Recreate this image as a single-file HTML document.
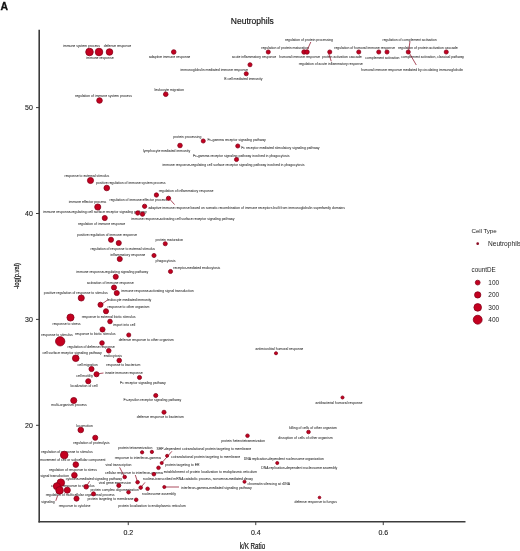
<!DOCTYPE html>
<html><head><meta charset="utf-8"><style>
html,body{margin:0;padding:0;background:#fff;}
body{width:520px;height:551px;overflow:hidden;position:relative;font-family:"Liberation Sans",sans-serif;}
svg{position:absolute;left:0;top:0;filter:blur(0.3px);}
</style></head><body>
<svg width="520" height="551" viewBox="0 0 520 551" font-family="Liberation Sans, sans-serif">
<text x="0.4" y="9.8" font-size="10.4" font-weight="bold" fill="#111" stroke="#111" stroke-width="0.3">A</text>
<text x="230.8" y="23.8" font-size="8.5" fill="#111" stroke="#111" stroke-width="0.15">Neutrophils</text>
<line x1="39.2" y1="29.8" x2="39.2" y2="522.5" stroke="#3c3c3c" stroke-width="1.6"/>
<line x1="38.5" y1="521.8" x2="465.5" y2="521.8" stroke="#3c3c3c" stroke-width="1.6"/>
<line x1="36" y1="107.60" x2="39" y2="107.60" stroke="#3c3c3c" stroke-width="1"/>
<text x="32.8" y="109.90" font-size="7" fill="#222" stroke="#222" stroke-width="0.12" text-anchor="end">50</text>
<line x1="36" y1="213.50" x2="39" y2="213.50" stroke="#3c3c3c" stroke-width="1"/>
<text x="32.8" y="215.80" font-size="7" fill="#222" stroke="#222" stroke-width="0.12" text-anchor="end">40</text>
<line x1="36" y1="319.40" x2="39" y2="319.40" stroke="#3c3c3c" stroke-width="1"/>
<text x="32.8" y="321.70" font-size="7" fill="#222" stroke="#222" stroke-width="0.12" text-anchor="end">30</text>
<line x1="36" y1="425.30" x2="39" y2="425.30" stroke="#3c3c3c" stroke-width="1"/>
<text x="32.8" y="427.60" font-size="7" fill="#222" stroke="#222" stroke-width="0.12" text-anchor="end">20</text>
<line x1="128.25" y1="522" x2="128.25" y2="525.1" stroke="#3c3c3c" stroke-width="1"/>
<text x="128.25" y="535.1" font-size="7" fill="#222" stroke="#222" stroke-width="0.12" text-anchor="middle">0.2</text>
<line x1="255.75" y1="522" x2="255.75" y2="525.1" stroke="#3c3c3c" stroke-width="1"/>
<text x="255.75" y="535.1" font-size="7" fill="#222" stroke="#222" stroke-width="0.12" text-anchor="middle">0.4</text>
<line x1="383.25" y1="522" x2="383.25" y2="525.1" stroke="#3c3c3c" stroke-width="1"/>
<text x="383.25" y="535.1" font-size="7" fill="#222" stroke="#222" stroke-width="0.12" text-anchor="middle">0.6</text>
<text transform="translate(252.5,548.6) scale(0.74,1)" font-size="8.5" fill="#222" stroke="#222" stroke-width="0.25" text-anchor="middle">k/K Ratio</text>
<text transform="translate(18.6,276) rotate(-90) scale(0.73,1)" font-size="8" fill="#222" stroke="#222" stroke-width="0.25" text-anchor="middle">-log(p.val)</text>
<g font-size="3.44" fill="#383838" stroke="#383838" stroke-width="0.06">
<text x="63" y="47.25">immune system process</text>
<text x="103.75" y="47.25">defense response</text>
<text x="86.25" y="59.00">immune response</text>
<text x="149" y="57.75">adaptive immune response</text>
<text x="154.5" y="91.25">leukocyte migration</text>
<text x="232" y="57.75">acute inflammatory response</text>
<text x="180.5" y="70.50">immunoglobulin mediated immune response</text>
<text x="224.25" y="79.75">B cell mediated immunity</text>
<text x="261.25" y="48.75">regulation of protein maturation</text>
<text x="285" y="41.25">regulation of protein processing</text>
<text x="279.25" y="57.50">humoral immune response</text>
<text x="322" y="57.50">protein activation cascade</text>
<text x="298.75" y="65.00">regulation of acute inflammatory response</text>
<text x="334.25" y="48.75">regulation of humoral immune response</text>
<text x="399.5" y="58.75" text-anchor="end">complement activation</text>
<text x="382.5" y="40.50">regulation of complement activation</text>
<text x="398" y="48.75">regulation of protein activation cascade</text>
<text x="401.2" y="57.75">complement activation, classical pathway</text>
<text x="361.25" y="71.00">humoral immune response mediated by circulating immunoglobulin</text>
<text x="75" y="97.00">regulation of immune system process</text>
<text x="143" y="151.50">lymphocyte mediated immunity</text>
<text x="173.25" y="138.00">protein processing</text>
<text x="207.5" y="140.75">Fc-gamma receptor signaling pathway</text>
<text x="241.25" y="148.50">Fc receptor mediated stimulatory signaling pathway</text>
<text x="289.5" y="156.50" text-anchor="end">Fc-gamma receptor signaling pathway involved in phagocytosis</text>
<text x="304.5" y="165.75" text-anchor="end">immune response-regulating cell surface receptor signaling pathway involved in phagocytosis</text>
<text x="64.5" y="176.75">response to external stimulus</text>
<text x="165.5" y="183.95" text-anchor="end">positive regulation of immune system process</text>
<text x="158.75" y="192.00">regulation of inflammatory response</text>
<text x="167" y="201.00" text-anchor="end">regulation of immune effector process</text>
<text x="68.75" y="203.25">immune effector process</text>
<text x="345" y="208.55" text-anchor="end">adaptive immune response based on somatic recombination of immune receptors built from immunoglobulin superfamily domains</text>
<text x="43" y="213.00">immune response-regulating cell surface receptor signaling pathway</text>
<text x="234.5" y="219.75" text-anchor="end">immune response-activating cell surface receptor signaling pathway</text>
<text x="78" y="225.00">regulation of immune response</text>
<text x="77" y="236.25">positive regulation of immune response</text>
<text x="90.5" y="249.50">regulation of response to external stimulus</text>
<text x="155.5" y="240.50">protein maturation</text>
<text x="110.5" y="255.75">inflammatory response</text>
<text x="155.5" y="261.75">phagocytosis</text>
<text x="76.25" y="272.50">immune response-regulating signaling pathway</text>
<text x="173.25" y="269.00">receptor-mediated endocytosis</text>
<text x="87" y="283.75">activation of immune response</text>
<text x="193.75" y="291.75" text-anchor="end">immune response-activating signal transduction</text>
<text x="43.75" y="293.75">positive regulation of response to stimulus</text>
<text x="107" y="300.50">leukocyte mediated immunity</text>
<text x="107.5" y="308.25">response to other organism</text>
<text x="81.75" y="318.00">response to external biotic stimulus</text>
<text x="52.5" y="325.00">response to stress</text>
<text x="113" y="326.25">import into cell</text>
<text x="75" y="335.00">response to biotic stimulus</text>
<text x="173.75" y="340.50" text-anchor="end">defense response to other organism</text>
<text x="41.25" y="336.25">response to stimulus</text>
<text x="67.5" y="348.00">regulation of defense response</text>
<text x="42.5" y="353.75">cell surface receptor signaling pathway</text>
<text x="103.75" y="356.75">endocytosis</text>
<text x="255.5" y="349.75">antimicrobial humoral response</text>
<text x="106.25" y="365.75">response to bacterium</text>
<text x="77.5" y="365.50">cell migration</text>
<text x="105" y="373.85">innate immune response</text>
<text x="76.25" y="377.25">cell motility</text>
<text x="70.5" y="387.00">localization of cell</text>
<text x="165.75" y="384.25" text-anchor="end">Fc receptor signaling pathway</text>
<text x="51.25" y="406.25">multi-organism process</text>
<text x="181.25" y="401.25" text-anchor="end">Fc-epsilon receptor signaling pathway</text>
<text x="315.5" y="404.00">antibacterial humoral response</text>
<text x="136.75" y="418.00">defense response to bacterium</text>
<text x="337" y="428.50" text-anchor="end">killing of cells of other organism</text>
<text x="332.5" y="438.75" text-anchor="end">disruption of cells of other organism</text>
<text x="76.25" y="426.75">locomotion</text>
<text x="73.25" y="443.75">regulation of proteolysis</text>
<text x="221.25" y="442.00">protein heterotetramerization</text>
<text x="41.25" y="452.50">regulation of response to stimulus</text>
<text x="118.1" y="449.15">protein tetramerization</text>
<text x="156.6" y="449.75">SRP-dependent cotranslational protein targeting to membrane</text>
<text x="114.8" y="458.75">response to interferon-gamma</text>
<text x="171" y="458.45">cotranslational protein targeting to membrane</text>
<text x="243.75" y="460.00">DNA replication-dependent nucleosome organization</text>
<text x="40.2" y="460.95">movement of cell or subcellular component</text>
<text x="165.1" y="466.25">protein targeting to ER</text>
<text x="105.5" y="466.25">viral transcription</text>
<text x="261.25" y="469.25">DNA replication-dependent nucleosome assembly</text>
<text x="49" y="471.25">regulation of response to stress</text>
<text x="105" y="473.65">cellular response to interferon-gamma</text>
<text x="163.7" y="473.35">establishment of protein localization to endoplasmic reticulum</text>
<text x="40.4" y="476.85">signal transduction</text>
<text x="121.9" y="479.75" text-anchor="end">cytokine-mediated signaling pathway</text>
<text x="253" y="479.85" text-anchor="end">nuclear-transcribed mRNA catabolic process, nonsense-mediated decay</text>
<text x="98.8" y="483.65">viral gene expression</text>
<text x="247.5" y="484.50">chromatin silencing at rDNA</text>
<text x="51" y="487.35">cellular response to stimulus</text>
<text x="181" y="488.55">interferon-gamma-mediated signaling pathway</text>
<text x="138.8" y="491.35" text-anchor="end">protein complex oligomerization</text>
<text x="142" y="495.05">nucleosome assembly</text>
<text x="45.8" y="495.75">regulation of multicellular organismal process</text>
<text x="133.5" y="500.45" text-anchor="end">protein targeting to membrane</text>
<text x="41.2" y="502.95">signaling</text>
<text x="294.5" y="503.25">defense response to fungus</text>
<text x="58.8" y="506.55">response to cytokine</text>
<text x="185.8" y="507.45" text-anchor="end">protein localization to endoplasmic reticulum</text>
</g>
<g stroke="#86001a" stroke-width="0.7">
<line x1="310.8" y1="42" x2="307.6" y2="49.2"/>
<line x1="328.75" y1="53.75" x2="331.25" y2="61.25"/>
<line x1="410" y1="41.25" x2="408.75" y2="50"/>
<line x1="408.75" y1="52" x2="416.25" y2="65"/>
<line x1="170.5" y1="200" x2="174.6" y2="204.6"/>
<line x1="100.5" y1="305" x2="107.5" y2="300"/>
<line x1="161.7" y1="463" x2="171.9" y2="451.3"/>
<line x1="124.7" y1="477" x2="119.6" y2="467.3"/>
<line x1="137.6" y1="482.2" x2="135.3" y2="475"/>
<line x1="140.7" y1="487.6" x2="145" y2="482.4"/>
<line x1="164.3" y1="487" x2="179" y2="487"/>
<line x1="86.2" y1="486.8" x2="89.6" y2="481.2"/>
<line x1="57.7" y1="495.4" x2="55.8" y2="500.8"/>
<line x1="99" y1="373.6" x2="103.5" y2="373"/>
</g>
<g fill="#c4001f" stroke="#86001a" stroke-width="0.8">
<circle cx="89.5" cy="52" r="3.80"/>
<circle cx="99" cy="52" r="3.80"/>
<circle cx="109.5" cy="52" r="3.30"/>
<circle cx="173.75" cy="52" r="2.30"/>
<circle cx="268.25" cy="52" r="2.05"/>
<circle cx="304" cy="52" r="2.25"/>
<circle cx="307" cy="52" r="2.25"/>
<circle cx="329.75" cy="52" r="2.05"/>
<circle cx="358.75" cy="52" r="2.05"/>
<circle cx="378.75" cy="52" r="2.05"/>
<circle cx="387" cy="52" r="2.05"/>
<circle cx="408.25" cy="52" r="2.05"/>
<circle cx="446.25" cy="52" r="2.05"/>
<circle cx="250" cy="64.75" r="2.05"/>
<circle cx="246.25" cy="73.75" r="2.05"/>
<circle cx="165.75" cy="94.25" r="2.30"/>
<circle cx="99.5" cy="100.5" r="2.80"/>
<circle cx="180" cy="145.5" r="2.30"/>
<circle cx="203.25" cy="141" r="2.05"/>
<circle cx="237.75" cy="146" r="2.05"/>
<circle cx="236.5" cy="159.5" r="2.05"/>
<circle cx="90.5" cy="180.5" r="3.05"/>
<circle cx="106.75" cy="188" r="2.80"/>
<circle cx="156.4" cy="195" r="2.15"/>
<circle cx="168.5" cy="198.3" r="2.15"/>
<circle cx="144.6" cy="206.3" r="2.15"/>
<circle cx="97.75" cy="207" r="3.05"/>
<circle cx="137.7" cy="213" r="2.15"/>
<circle cx="142.5" cy="214.2" r="2.15"/>
<circle cx="104.75" cy="218" r="2.55"/>
<circle cx="111" cy="239.75" r="2.55"/>
<circle cx="118.75" cy="243" r="2.55"/>
<circle cx="165.25" cy="243.75" r="2.05"/>
<circle cx="119.75" cy="259" r="2.55"/>
<circle cx="154" cy="255.5" r="2.05"/>
<circle cx="115.75" cy="276.75" r="2.55"/>
<circle cx="170.5" cy="271.5" r="2.05"/>
<circle cx="114" cy="287.5" r="2.55"/>
<circle cx="116.75" cy="293" r="2.55"/>
<circle cx="81.25" cy="298" r="3.05"/>
<circle cx="100.5" cy="304.75" r="2.55"/>
<circle cx="106" cy="311.25" r="2.55"/>
<circle cx="70.5" cy="317.5" r="3.55"/>
<circle cx="110" cy="321.5" r="2.30"/>
<circle cx="102.5" cy="329.5" r="2.55"/>
<circle cx="128.75" cy="335" r="2.05"/>
<circle cx="60.2" cy="341.3" r="4.65"/>
<circle cx="102" cy="343" r="2.30"/>
<circle cx="108.75" cy="350.75" r="2.30"/>
<circle cx="75.75" cy="358.25" r="3.30"/>
<circle cx="119.25" cy="360.5" r="2.30"/>
<circle cx="91.5" cy="369" r="2.55"/>
<circle cx="96.5" cy="374.25" r="2.55"/>
<circle cx="88.25" cy="381.25" r="2.55"/>
<circle cx="139.5" cy="377.5" r="2.05"/>
<circle cx="73.75" cy="400.5" r="3.05"/>
<circle cx="155.75" cy="395.5" r="2.05"/>
<circle cx="164" cy="412.25" r="2.05"/>
<circle cx="276" cy="353.25" r="1.55"/>
<circle cx="342.5" cy="397.5" r="1.55"/>
<circle cx="308.5" cy="432" r="1.80"/>
<circle cx="80.75" cy="430" r="2.80"/>
<circle cx="95.25" cy="437.75" r="2.55"/>
<circle cx="64.25" cy="455" r="3.80"/>
<circle cx="75.8" cy="464.6" r="2.80"/>
<circle cx="74.4" cy="475.2" r="2.80"/>
<circle cx="142.1" cy="452.3" r="1.65"/>
<circle cx="151.9" cy="451.9" r="1.65"/>
<circle cx="167.1" cy="455.8" r="1.55"/>
<circle cx="161.7" cy="463" r="1.55"/>
<circle cx="158.5" cy="467.8" r="1.80"/>
<circle cx="153.9" cy="474.2" r="1.80"/>
<circle cx="124.7" cy="477" r="1.80"/>
<circle cx="137.6" cy="482.2" r="1.80"/>
<circle cx="118.8" cy="485.5" r="2.05"/>
<circle cx="140.7" cy="487.6" r="1.80"/>
<circle cx="147.6" cy="488.8" r="1.80"/>
<circle cx="164.3" cy="487" r="1.55"/>
<circle cx="128.5" cy="492.2" r="1.80"/>
<circle cx="136.2" cy="499.8" r="1.80"/>
<circle cx="247.5" cy="435.75" r="1.80"/>
<circle cx="277.25" cy="463" r="1.55"/>
<circle cx="244.5" cy="481.75" r="1.55"/>
<circle cx="319.5" cy="497.5" r="1.30"/>
<circle cx="60.8" cy="482.7" r="3.80"/>
<circle cx="56.9" cy="486.2" r="3.55"/>
<circle cx="59.6" cy="490.4" r="3.80"/>
<circle cx="67.3" cy="490.2" r="3.05"/>
<circle cx="86.2" cy="486.8" r="2.30"/>
<circle cx="93.5" cy="493.9" r="2.05"/>
<circle cx="76.5" cy="498.6" r="2.55"/>
</g>
<text x="471.6" y="233.2" font-size="6.2" fill="#222" letter-spacing="-0.08">Cell Type</text>
<circle cx="477.7" cy="243.7" r="1.35" fill="#8a0a22"/>
<text x="488" y="246" font-size="6.6" fill="#222">Neutrophils</text>
<text x="471.6" y="272.1" font-size="6.3" fill="#222">countDE</text>
<circle cx="477.7" cy="282.6" r="2.40" fill="#c4001f" stroke="#86001a" stroke-width="0.8"/>
<text x="488.3" y="284.90" font-size="6.5" fill="#222">100</text>
<circle cx="477.7" cy="294.9" r="3.15" fill="#c4001f" stroke="#86001a" stroke-width="0.8"/>
<text x="488.3" y="297.20" font-size="6.5" fill="#222">200</text>
<circle cx="477.7" cy="307.4" r="3.80" fill="#c4001f" stroke="#86001a" stroke-width="0.8"/>
<text x="488.3" y="309.70" font-size="6.5" fill="#222">300</text>
<circle cx="477.7" cy="319.7" r="4.45" fill="#c4001f" stroke="#86001a" stroke-width="0.8"/>
<text x="488.3" y="322.00" font-size="6.5" fill="#222">400</text>
</svg>
</body></html>
